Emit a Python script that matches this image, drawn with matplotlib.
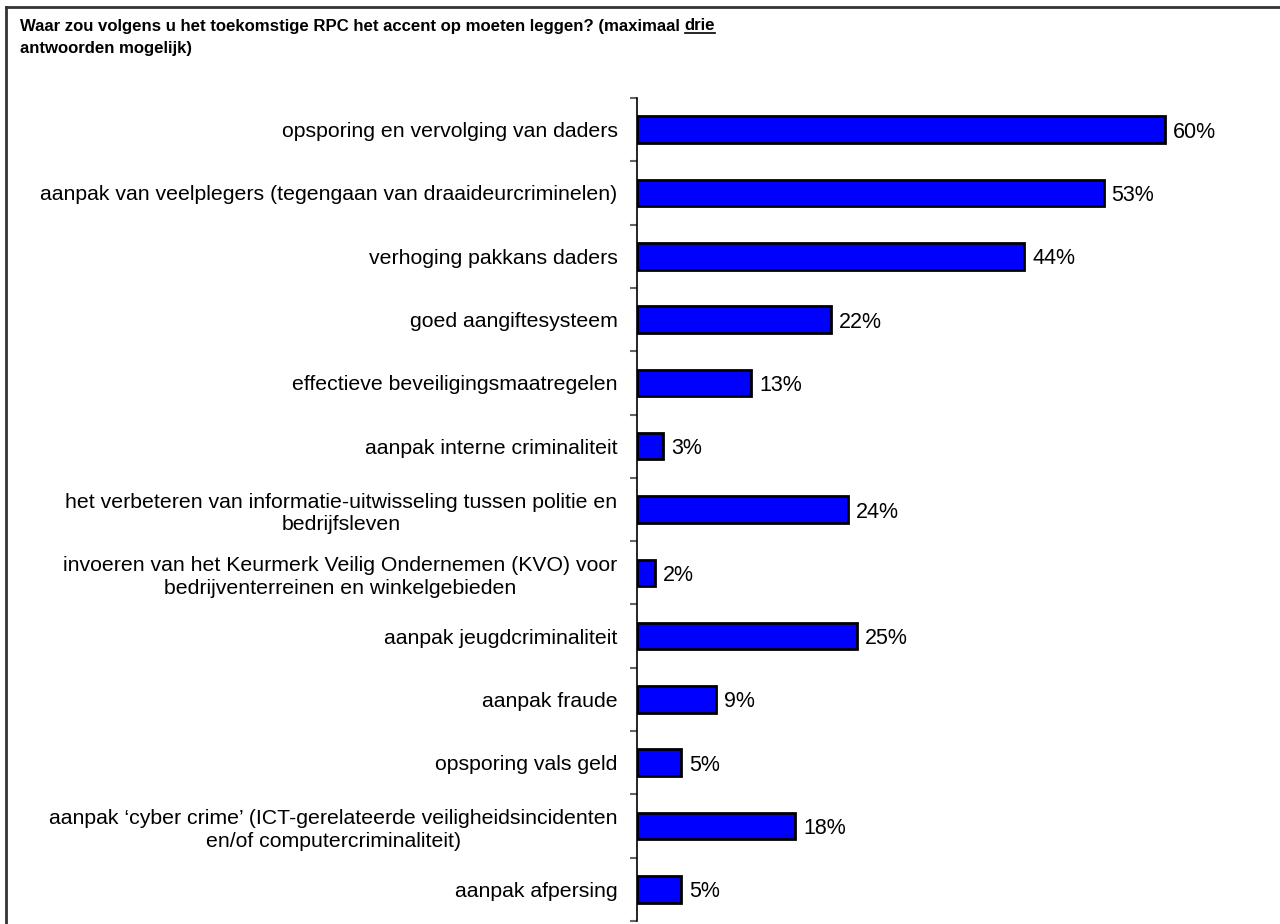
import numpy as np
import matplotlib.pyplot as plt

plt.rcParams['font.family'] = ['Liberation Sans', 'DejaVu Sans']

# antwoordcategorieen en percentages
categorieen = [
    "opsporing en vervolging van daders",
    "aanpak van veelplegers (tegengaan van draaideurcriminelen)",
    "verhoging pakkans daders",
    "goed aangiftesysteem",
    "effectieve beveiligingsmaatregelen",
    "aanpak interne criminaliteit",
    "het verbeteren van informatie-uitwisseling tussen politie en\nbedrijfsleven",
    "invoeren van het Keurmerk Veilig Ondernemen (KVO) voor\nbedrijventerreinen en winkelgebieden",
    "aanpak jeugdcriminaliteit",
    "aanpak fraude",
    "opsporing vals geld",
    "aanpak \u2018cyber crime\u2019 (ICT-gerelateerde veiligheidsincidenten\nen/of computercriminaliteit)",
    "aanpak afpersing",
]
percentages = [60, 53, 44, 22, 13, 3, 24, 2, 25, 9, 5, 18, 5]

fig = plt.figure(figsize=(12.8, 9.24), dpi=100)
ax = fig.add_axes([637 / 1280, 1 - 921 / 924, 640 / 1280, (921 - 98) / 924])

n = len(categorieen)
y = np.arange(n)
ax.barh(y, percentages, height=0.42, color='#0000FF', edgecolor='black', linewidth=2)

for yi, p in zip(y, percentages):
    ax.text(p + 0.9, yi, f"{p}%", va='center_baseline', ha='left', fontsize=15.5)

ax.set_ylim(n - 0.5, -0.5)
ax.set_xlim(0, 72.7)

# streepjes tussen de categorieen, labels in het midden
ax.set_yticks(np.arange(-0.5, n, 1))
ax.set_yticklabels([])
ax.tick_params(axis='y', which='major', length=5, width=1.5, color='#666666')
ax.set_yticks(y, minor=True)
ax.set_yticklabels(categorieen, minor=True, fontsize=15.3, multialignment='center',
                   linespacing=1.25)
ax.tick_params(axis='y', which='minor', length=0, pad=14)
ax.set_xticks([])

for s in ['top', 'right', 'bottom']:
    ax.spines[s].set_visible(False)
ax.spines['left'].set_linewidth(1.2)

# titel met onderstreept woord
t1 = fig.text(20 / 1280, 1 - 26 / 924,
              "Waar zou volgens u het toekomstige RPC het accent op moeten leggen? (maximaal ",
              fontsize=12.1, fontweight='bold', va='center', ha='left')
fig.text(20 / 1280, 1 - 49 / 924, "antwoorden mogelijk)", fontsize=12.1, fontweight='bold',
         va='center', ha='left')
renderer = fig.canvas.get_renderer()
bb = t1.get_window_extent(renderer)
t2 = fig.text(bb.x1 / 1280, 1 - 26 / 924, "drie", fontsize=12.1, fontweight='bold', va='center', ha='left')
bb2 = t2.get_window_extent(renderer)
yl = (bb2.y0 + 1) / 924
fig.add_artist(plt.Line2D([bb2.x0 / 1280, bb2.x1 / 1280], [yl, yl], color='black', lw=1.2))

# kader
fig.add_artist(plt.Line2D([6 / 1280, 1], [1 - 7 / 924, 1 - 7 / 924], color='#333333', lw=2))
fig.add_artist(plt.Line2D([6 / 1280, 6 / 1280], [0, 1 - 7 / 924], color='#333333', lw=2))

fig.savefig('out.png', dpi=100)
